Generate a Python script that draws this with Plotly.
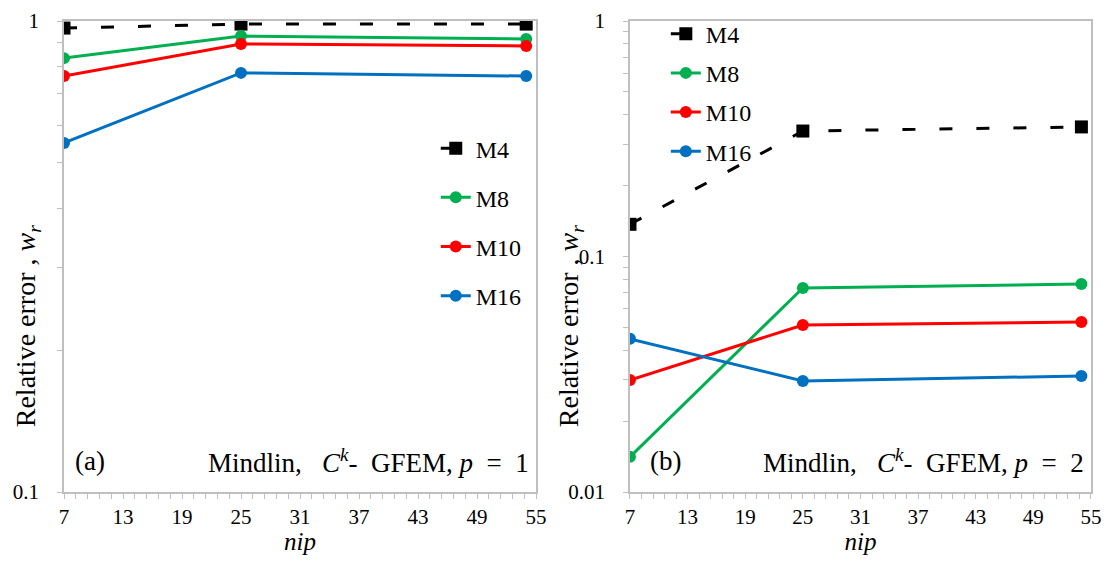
import plotly.graph_objects as go

nip = [7, 25, 54]
series = ["M4", "M8", "M10", "M16"]
colors = ["#000000", "#00B050", "#FF0000", "#0070C0"]

a_M4 = [0.966, 0.985, 0.985]
a_M8 = [0.834, 0.929, 0.916]
a_M10 = [0.764, 0.894, 0.885]
a_M16 = [0.551, 0.776, 0.764]

b_M4 = [0.137, 0.341, 0.355]
b_M8 = [0.0141, 0.0735, 0.0764]
b_M10 = [0.0299, 0.0512, 0.0527]
b_M16 = [0.0447, 0.0296, 0.0311]

xticks = list(range(7, 56, 6))
FONT = "Liberation Serif"

fig = go.Figure()

def add(vals, name, color, xa, ya, leg):
    is4 = name == "M4"
    fig.add_trace(go.Scatter(
        x=nip, y=vals, name=name, mode="lines+markers",
        line=dict(color=color, width=3, dash="13px,24px" if is4 else "solid"),
        marker=dict(symbol="square" if is4 else "circle", size=13 if is4 else 12, color=color),
        xaxis=xa, yaxis=ya, legend=leg, legendgroup=leg + name))

for name, c, v in zip(series, colors, [a_M4, a_M8, a_M10, a_M16]):
    add(v, name, c, "x", "y", "legend")
for name, c, v in zip(series, colors, [b_M4, b_M8, b_M10, b_M16]):
    add(v, name, c, "x2", "y2", "legend2")

axcol = "#BFBFBF"
tickfont = dict(family=FONT, size=21, color="black")

def xaxis(domain, anchor):
    return dict(domain=domain, anchor=anchor, range=[7, 55], tickvals=xticks, automargin=False,
                ticks="outside", ticklen=5, tickcolor=axcol, ticklabelstandoff=0,
                showline=True, linecolor=axcol, linewidth=1.5, mirror=True, showgrid=False,
                zeroline=False, tickfont=tickfont,
                title=dict(text="<i>nip</i>", font=dict(family=FONT, size=25, color="black"), standoff=2),
                minor=dict(ticks="outside", dtick=1.2, tick0=7, ticklen=5, tickcolor=axcol))

def yaxis(anchor, rng, tv, tt, minor_vals):
    return dict(domain=[0, 1], anchor=anchor, type="log", range=rng, tickvals=tv, ticktext=tt,
                automargin=False, ticks="outside", ticklen=5, tickcolor=axcol, ticklabelstandoff=14,
                showline=True, linecolor=axcol, linewidth=1.5, mirror=True, showgrid=False,
                zeroline=False, tickfont=tickfont,
                minor=dict(ticks="outside", tickvals=minor_vals, ticklen=5, tickcolor=axcol))

minor_a = [k / 10 for k in range(2, 10)]
minor_b = [k / 100 for k in range(2, 10)] + [k / 10 for k in range(2, 10)]

fig.update_layout(
    width=1094, height=547, paper_bgcolor="white", plot_bgcolor="white",
    font=dict(family=FONT, color="black"),
    margin=dict(l=56, r=11, t=13, b=63, autoexpand=False),
    xaxis=xaxis([0, 0.4596], "y"),
    xaxis2=xaxis([0.5511, 1], "y2"),
    yaxis=yaxis("x", [-1, 0], [0.1, 1], ["0.1", "1"], minor_a),
    yaxis2=yaxis("x2", [-2, 0], [0.01, 0.1, 1], ["0.01", "0.1", "1"], minor_b),
    legend=dict(x=0.362, y=0.777, xanchor="left", yanchor="top", bgcolor="rgba(0,0,0,0)",
                font=dict(family=FONT, size=24, color="black"), traceorder="grouped",
                tracegroupgap=15),
    legend2=dict(x=0.586, y=1.02, xanchor="left", yanchor="top", bgcolor="rgba(0,0,0,0)",
                 font=dict(family=FONT, size=24, color="black"), traceorder="grouped",
                 tracegroupgap=5),
    showlegend=True,
)

ytitle = "Relative error , <i>w<sub>r</sub></i>"
yfont = dict(family=FONT, size=28, color="black")
fig.add_annotation(text=ytitle, xref="paper", yref="paper", x=-0.036, y=0.352, textangle=-90,
                   xanchor="center", yanchor="middle", showarrow=False, font=yfont)
fig.add_annotation(text=ytitle, xref="paper", yref="paper", x=0.4927, y=0.352, textangle=-90,
                   xanchor="center", yanchor="middle", showarrow=False, font=yfont)

annfont = dict(family=FONT, size=27, color="black")
S = "\u00a0"
def lab(pv):
    return ("Mindlin," + S * 3 + "<i>C<sup>k</sup></i>-" + S * 2 + "GFEM," + S + "<i>p</i>"
            + S * 2 + "=" + S * 2 + pv)
fig.add_annotation(text="(a)", xref="x domain", yref="y domain", x=0.02, y=0.066,
                   xanchor="left", yanchor="middle", showarrow=False, font=annfont)
fig.add_annotation(text=lab("1"), xref="x domain", yref="y domain", x=0.99, y=0.066,
                   xanchor="right", yanchor="middle", showarrow=False, font=annfont)
fig.add_annotation(text="(b)", xref="x2 domain", yref="y2 domain", x=0.04, y=0.066,
                   xanchor="left", yanchor="middle", showarrow=False, font=annfont)
fig.add_annotation(text=lab("2"), xref="x2 domain", yref="y2 domain", x=0.99, y=0.066,
                   xanchor="right", yanchor="middle", showarrow=False, font=annfont)

fig.write_html("out.html")
